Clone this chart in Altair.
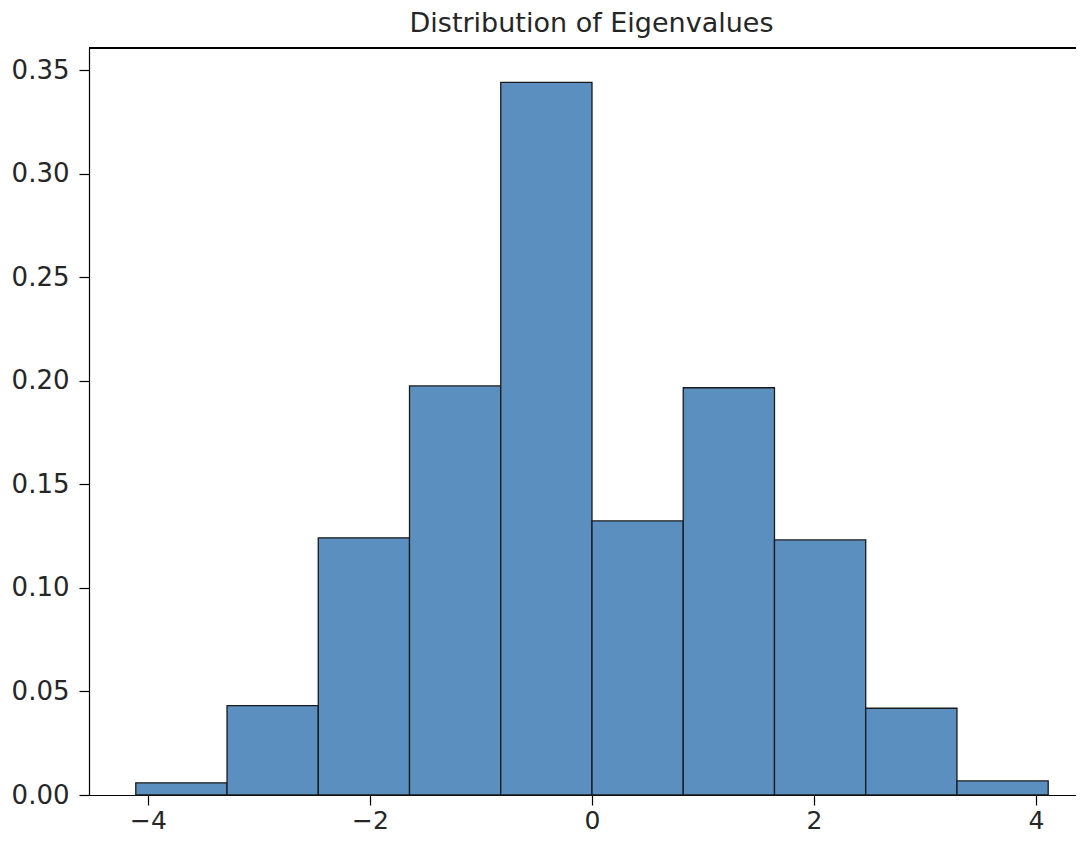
import altair as alt
import pandas as pd

bin_start = [-4.11, -3.288, -2.466, -1.644, -0.822, 0.0, 0.822, 1.644, 2.466, 3.288]
bin_end = [-3.288, -2.466, -1.644, -0.822, 0.0, 0.822, 1.644, 2.466, 3.288, 4.11]
density = [0.0059, 0.0432, 0.1242, 0.1976, 0.3442, 0.1324, 0.1967, 0.1232, 0.0419, 0.0068]

x_ticks = [-4, -2, 0, 2, 4]
y_ticks = [0.0, 0.05, 0.10, 0.15, 0.20, 0.25, 0.30, 0.35]

df = pd.DataFrame({"start": bin_start, "end": bin_end, "density": density})

W, H = 987, 747
FONT = "DejaVu Sans"

bars = alt.Chart(df).mark_rect(
    fill="#5b8fbf", stroke="#1a1a1a", strokeWidth=1.3
).encode(
    x=alt.X("start:Q", scale=alt.Scale(domain=[-4.5315, 4.3604], nice=False, zero=False),
            axis=alt.Axis(values=x_ticks, title=None, grid=False, tickSize=10,
                          labelFontSize=25, labelFont=FONT, labelColor="#262626",
                          labelPadding=3, domainColor="black", tickColor="black",
                          domainWidth=1.2, tickWidth=1.2, format="d",
                          labelExpr="replace(datum.label, '-', '\u2212')")),
    x2="end:Q",
    y=alt.Y("density:Q", scale=alt.Scale(domain=[0, 0.3608], nice=False),
            axis=alt.Axis(values=y_ticks, title=None, grid=False, tickSize=10,
                          labelFontSize=26, labelFont=FONT, labelColor="#262626",
                          labelPadding=10, domainColor="black", tickColor="black",
                          domainWidth=1.2, tickWidth=1.2, format=".2f")),
    y2=alt.datum(0),
)

top_spine = alt.Chart(df).mark_rule(color="black", strokeWidth=1.2).encode(
    x=alt.value(0), x2=alt.value(W), y=alt.value(0)
)

chart = alt.layer(bars, top_spine).properties(
    width=W, height=H,
    title=alt.TitleParams("Distribution of Eigenvalues", fontSize=27, font=FONT,
                          fontWeight="normal", color="#262626", offset=9, dx=9),
    autosize=alt.AutoSizeParams(type="none"),
    padding={"left": 81, "top": 40, "right": 0, "bottom": 41},
).configure_view(stroke=None)

chart.save("out.html", embed_options={"renderer": "svg", "actions": False})
